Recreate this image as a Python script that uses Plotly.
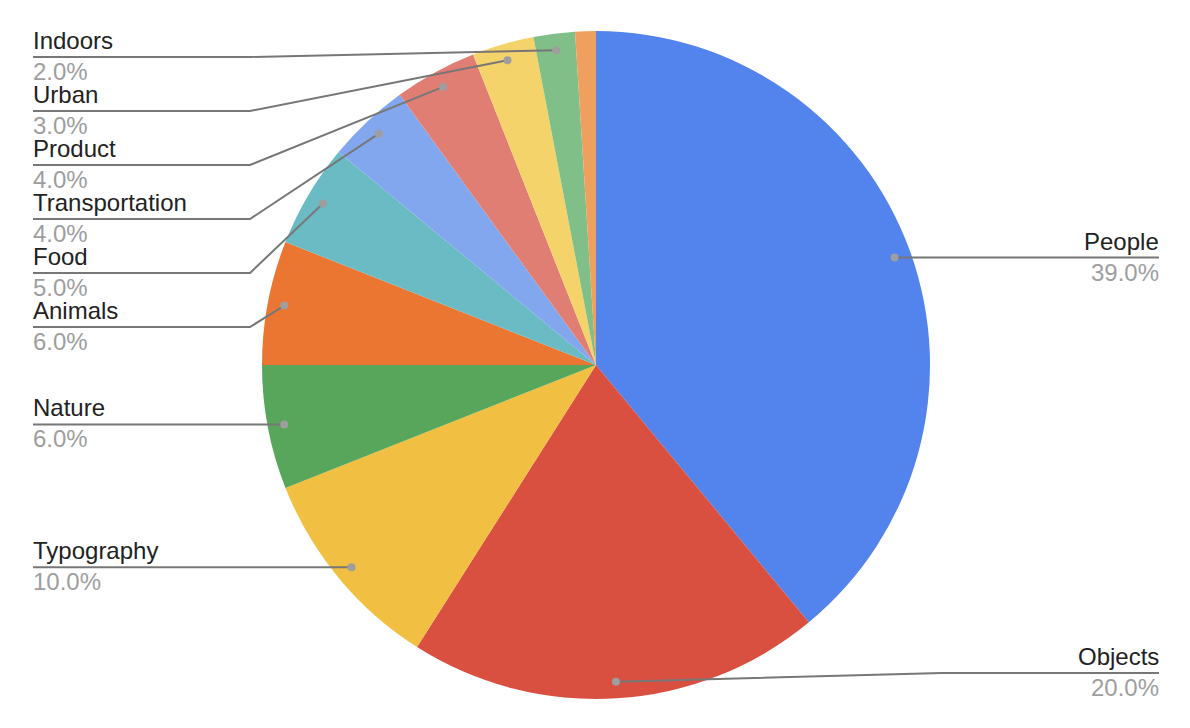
import math
import plotly.graph_objects as go

# ---- data ----
categories = ["People", "Objects", "Typography", "Nature", "Animals", "Food",
              "Transportation", "Product", "Urban", "Indoors", "Other"]
values = [39, 20, 10, 6, 6, 5, 4, 4, 3, 2, 1]
colors = ["#5383EC", "#D95040", "#F1BF42", "#58A65C", "#EB7631", "#6ABBC3",
          "#82A7EF", "#E17E73", "#F4D36A", "#80BF88", "#F0A05E"]

# ---- layout constants (pixels, in page coordinates) ----
W, H = 1190, 728
OFF = 8             # page body margin
CX, CY, R = 596, 365, 334
DOT_FRAC = 0.95
SPACING = 54
VLIM = 308          # max vertical distance of label line from center
BEND = 346          # horizontal distance of bend point from center
END = 563           # horizontal distance of line end from center
FONT = "Liberation Sans, Arial, sans-serif"
FS = 24


def px(x):
    return (x - OFF) / W


def py(y):
    return 1 - (y - OFF) / H


fig = go.Figure()
fig.add_trace(go.Pie(
    labels=categories, values=values, sort=False, direction="clockwise",
    rotation=0, marker=dict(colors=colors, line=dict(width=0)),
    textinfo="none", hoverinfo="label+percent", showlegend=False,
    domain=dict(x=[px(CX - R), px(CX + R)], y=[py(CY + R), py(CY - R)]),
))

total = sum(values)
items = []
cum = 0
for cat, v in zip(categories, values):
    mid = (cum + v / 2) / total * 2 * math.pi
    cum += v
    if v / total < 0.015:
        continue
    dx = math.sin(mid) * R * DOT_FRAC
    dy = -math.cos(mid) * R * DOT_FRAC
    items.append(dict(cat=cat, v=v, x=CX + dx, y=CY + dy, side=1 if dx > 0 else -1))

shapes, annotations = [], []
for side in (-1, 1):
    group = sorted([it for it in items if it["side"] == side], key=lambda d: d["y"])
    prev = None
    for it in group:
        ly = max(it["y"], CY - VLIM)
        if prev is not None:
            ly = max(ly, prev + SPACING)
        ly = min(ly, CY + VLIM)
        prev = ly
        it["ly"] = ly

    for it in group:
        ly = it["ly"]
        ex = CX + side * END
        bx = CX + side * BEND
        pts = [(it["x"], it["y"])]
        if abs(ly - it["y"]) > 1:
            pts.append((bx, ly))
        pts.append((ex, ly))
        path = "M " + " L ".join(f"{px(a):.5f},{py(b):.5f}" for a, b in pts)
        shapes.append(dict(type="path", path=path, xref="paper", yref="paper",
                           line=dict(color="#777777", width=2), layer="above"))
        r = 4
        shapes.append(dict(type="circle", xref="paper", yref="paper",
                           x0=px(it["x"] - r), x1=px(it["x"] + r),
                           y0=py(it["y"] + r), y1=py(it["y"] - r),
                           fillcolor="#9E9E9E", line=dict(width=0), layer="above"))
        anchor = "left" if side < 0 else "right"
        annotations.append(dict(x=px(ex), y=py(ly - 16.5), xref="paper", yref="paper",
                                text=it["cat"], showarrow=False, xanchor=anchor,
                                yanchor="middle", borderpad=0, borderwidth=0,
                                font=dict(family=FONT, size=FS, color="#222222")))
        annotations.append(dict(x=px(ex), y=py(ly + 14.5), xref="paper", yref="paper",
                                text=f"{it['v'] / total * 100:.1f}%", showarrow=False,
                                xanchor=anchor, yanchor="middle", borderpad=0,
                                borderwidth=0,
                                font=dict(family=FONT, size=FS, color="#9E9E9E")))

fig.update_layout(
    width=W, height=H, margin=dict(l=0, r=0, t=0, b=0),
    paper_bgcolor="white", plot_bgcolor="white",
    shapes=shapes, annotations=annotations,
)

fig.write_html("out.html")
